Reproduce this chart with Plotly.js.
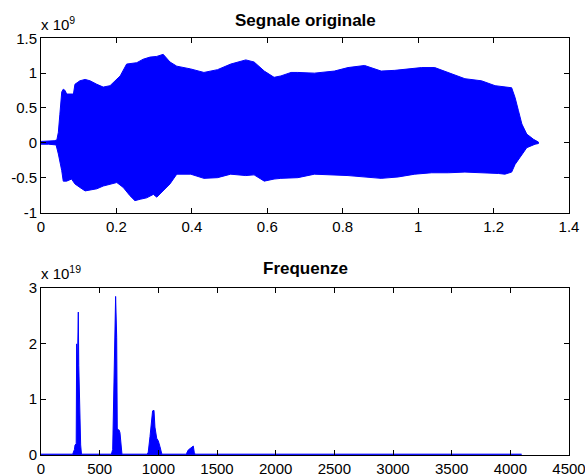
<!DOCTYPE html>
<html>
<head>
<meta charset="utf-8">
<script src="https://cdn.plot.ly/plotly-3.0.1.min.js"></script>
<style>
  html, body { margin: 0; padding: 0; background: #fff; }
  #chart { width: 585px; height: 475px; }
</style>
</head>
<body>
<div id="chart"></div>
<script>
// ---- Top panel: "Segnale originale" (amplitude in units of 1e9), envelope
const sigUpperT = [0, 0.02, 0.035, 0.042, 0.046, 0.050, 0.055, 0.059, 0.064, 0.068,
  0.086, 0.090, 0.103, 0.117, 0.130, 0.148, 0.165, 0.183, 0.196, 0.210,
  0.227, 0.236, 0.254, 0.271, 0.289, 0.307, 0.324, 0.342, 0.360, 0.397,
  0.432, 0.468, 0.503, 0.543, 0.565, 0.592, 0.618, 0.636, 0.663, 0.681,
  0.725, 0.778, 0.814, 0.858, 0.902, 0.938, 0.973, 1.009, 1.044, 1.080,
  1.124, 1.168, 1.204, 1.248, 1.257, 1.266, 1.275, 1.288, 1.306, 1.319];
const sigUpper = [0.02, 0.02, 0.03, 0.04, 0.15, 0.41, 0.73, 0.77, 0.75, 0.70,
  0.70, 0.84, 0.89, 0.91, 0.89, 0.84, 0.80, 0.82, 0.89, 0.96,
  1.13, 1.14, 1.15, 1.20, 1.23, 1.24, 1.27, 1.16, 1.10, 1.06,
  1.01, 1.05, 1.13, 1.19, 1.16, 1.03, 0.94, 0.96, 1.01, 1.01,
  1.00, 1.03, 1.08, 1.11, 1.03, 1.04, 1.06, 1.08, 1.08, 1.01,
  0.92, 0.89, 0.82, 0.79, 0.65, 0.46, 0.27, 0.125, 0.05, 0.01];
const sigLowerT = [0, 0.02, 0.040, 0.046, 0.055, 0.059, 0.068, 0.081, 0.090, 0.103,
  0.117, 0.130, 0.148, 0.165, 0.183, 0.201, 0.218, 0.236, 0.249, 0.263,
  0.280, 0.298, 0.307, 0.324, 0.342, 0.360, 0.397, 0.432, 0.468, 0.503,
  0.543, 0.565, 0.592, 0.618, 0.636, 0.681, 0.725, 0.814, 0.902, 0.947,
  0.991, 1.036, 1.080, 1.124, 1.168, 1.213, 1.230, 1.248, 1.257, 1.270,
  1.288, 1.310, 1.319];
const sigLower = [-0.02, -0.02, -0.03, -0.16, -0.40, -0.55, -0.55, -0.52, -0.59, -0.64,
  -0.69, -0.68, -0.66, -0.62, -0.60, -0.57, -0.64, -0.76, -0.83, -0.81,
  -0.79, -0.74, -0.78, -0.69, -0.59, -0.45, -0.45, -0.51, -0.50, -0.45,
  -0.47, -0.46, -0.55, -0.52, -0.51, -0.50, -0.45, -0.47, -0.51, -0.49,
  -0.45, -0.43, -0.43, -0.42, -0.43, -0.44, -0.45, -0.42, -0.31, -0.21,
  -0.07, -0.02, -0.01];

// ---- Bottom panel: "Frequenze" (magnitude in units of 1e19)
const freqHz = [0, 270, 285, 290, 300, 304, 310, 318, 322, 328,
  332, 338, 345, 600, 611, 616, 625, 636, 645, 650,
  658, 665, 673, 680, 690, 905, 914, 929, 943, 951,
  963, 971, 986, 1000, 1014, 1022, 1030, 1235, 1241, 1255,
  1270, 1284, 1298, 1306, 1312, 4096];
const freqMag = [0.015, 0.015, 0.1, 0.18, 0.2, 1.99, 1.5, 2.56, 1.6, 1.10,
  0.5, 0.18, 0.015, 0.015, 0.1, 0.6, 1.34, 2.84, 2.11, 0.48,
  0.45, 0.45, 0.40, 0.15, 0.015, 0.015, 0.05, 0.33, 0.63, 0.79,
  0.80, 0.5, 0.3, 0.25, 0.15, 0.05, 0.015, 0.015, 0.03, 0.09,
  0.12, 0.15, 0.16, 0.05, 0.015, 0.015];

// ---- Tick labels
const topXTicks = [0, 0.2, 0.4, 0.6, 0.8, 1, 1.2, 1.4];
const topXLabels = ['0', '0.2', '0.4', '0.6', '0.8', '1', '1.2', '1.4'];
const topYTicks = [-1, -0.5, 0, 0.5, 1, 1.5];
const topYLabels = ['-1', '-0.5', '0', '0.5', '1', '1.5'];
const botXTicks = [0, 500, 1000, 1500, 2000, 2500, 3000, 3500, 4000, 4500];
const botXLabels = ['0', '500', '1000', '1500', '2000', '2500', '3000', '3500', '4000', '4500'];
const botYTicks = [0, 1, 2, 3];
const botYLabels = ['0', '1', '2', '3'];

const W = 585, H = 475;
const px = v => v / W;
const py = v => 1 - v / H;
const FONT = '"Liberation Sans", Arial, Helvetica, sans-serif';
const BLUE = '#0000ff';

const envX = sigUpperT.concat(sigLowerT.slice().reverse());
const envY = sigUpper.concat(sigLower.slice().reverse());

const traces = [
  { type: 'scatter', mode: 'lines', x: envX, y: envY, fill: 'toself',
    fillcolor: BLUE, line: { color: BLUE, width: 1 }, xaxis: 'x', yaxis: 'y', hoverinfo: 'skip' },
  { type: 'scatter', mode: 'lines', x: freqHz, y: freqMag, fill: 'tozeroy',
    fillcolor: BLUE, line: { color: BLUE, width: 1 }, xaxis: 'x2', yaxis: 'y2', hoverinfo: 'skip' }
];

const axisBase = {
  showline: true, linecolor: '#000', linewidth: 1, mirror: 'ticks',
  ticks: 'inside', ticklen: 5, tickwidth: 1, tickcolor: '#000',
  showgrid: false, zeroline: false, tickmode: 'array', ticklabeloverflow: 'allow',
  tickfont: { family: FONT, size: 15, color: '#000' }, fixedrange: true
};

const xDom = [px(41), px(569)];

const layout = {
  width: W, height: H,
  margin: { l: 0, r: 0, t: 0, b: 0 },
  paper_bgcolor: '#fff', plot_bgcolor: '#fff',
  showlegend: false,
  font: { family: FONT, color: '#000' },
  xaxis: Object.assign({}, axisBase, { domain: xDom, range: [0, 1.4], anchor: 'y',
    tickvals: topXTicks, ticktext: topXLabels }),
  yaxis: Object.assign({}, axisBase, { domain: [py(212.5), py(38.3)], range: [-1, 1.5], anchor: 'x',
    tickvals: topYTicks, ticktext: topYLabels }),
  xaxis2: Object.assign({}, axisBase, { domain: xDom, range: [0, 4500], anchor: 'y2',
    tickvals: botXTicks, ticktext: botXLabels }),
  yaxis2: Object.assign({}, axisBase, { domain: [py(455), py(287.5)], range: [0, 3], anchor: 'x2',
    tickvals: botYTicks, ticktext: botYLabels }),
  annotations: [
    { xref: 'paper', yref: 'paper', x: px(305), y: py(20), xanchor: 'center', yanchor: 'middle',
      text: '<b>Segnale originale</b>', showarrow: false, font: { family: FONT, size: 17, color: '#000' } },
    { xref: 'paper', yref: 'paper', x: px(305), y: py(268), xanchor: 'center', yanchor: 'middle',
      text: '<b>Frequenze</b>', showarrow: false, font: { family: FONT, size: 17, color: '#000' } },
    { xref: 'paper', yref: 'paper', x: px(39), y: py(24), xanchor: 'left', yanchor: 'middle',
      text: 'x 10<sup>9</sup>', showarrow: false, font: { family: FONT, size: 15, color: '#000' } },
    { xref: 'paper', yref: 'paper', x: px(39), y: py(272), xanchor: 'left', yanchor: 'middle',
      text: 'x 10<sup>19</sup>', showarrow: false, font: { family: FONT, size: 15, color: '#000' } }
  ]
};

Plotly.newPlot('chart', traces, layout, { staticPlot: true, displayModeBar: false });
</script>
</body>
</html>
